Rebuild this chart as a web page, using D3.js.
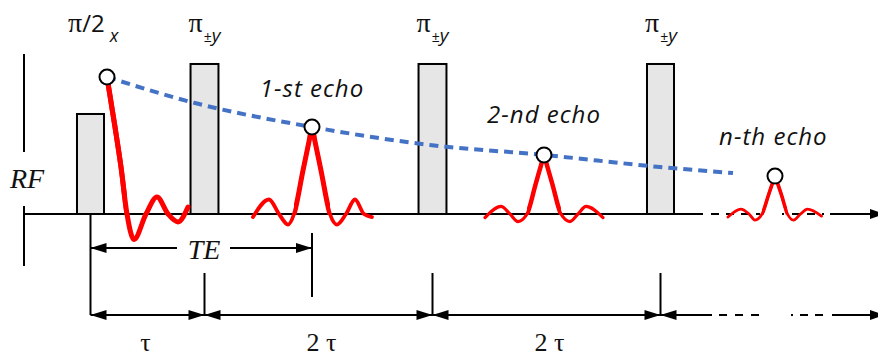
<!DOCTYPE html>
<html>
<head>
<meta charset="utf-8">
<script src="https://cdn.jsdelivr.net/npm/d3@7"></script>
<style>
  html, body { margin: 0; padding: 0; background: #fff; }
  svg { display: block; }
</style>
</head>
<body>
<svg id="chart" width="878" height="358"></svg>
<script>
// ---- data: time in units of tau, amplitude normalised to the FID maximum ----
const pulseTimes  = [0, 1, 3, 5];
const pulseWidths = [0.237, 0.245, 0.245, 0.237];
const pulseAmps   = [0.73, 1.095, 1.095, 1.095];
const pulseLabels = ["π/2", "π", "π", "π"];
const pulseSubs   = ["x", "±y", "±y", "±y"];

const echoLabels  = ["1-st echo", "2-nd echo", "n-th echo"];
const peakTimes   = [0.1447, 1.943, 3.9781, 6.0044];
const peakAmps    = [1.0, 0.635, 0.431, 0.277];

const decayTimes  = [0.1447, 0.917, 1.943, 2.978, 3.9781, 4.996, 5.636];
const decayAmps   = [1.0, 0.81, 0.635, 0.504, 0.431, 0.343, 0.299];

const fidSignal = [
  [0.1447, 1.0], [0.2149, 0.635], [0.2675, 0.343], [0.3202, 0], [0.3816, -0.186],
  [0.4868, 0], [0.5833, 0.124], [0.6798, 0], [0.7675, -0.058], [0.8553, 0.051]
];
const echo1Signal = [
  [1.4254, -0.022], [1.5658, 0.106], [1.6535, 0], [1.7325, -0.077], [1.7851, 0],
  [1.8640, 0.318], [1.9167, 0.529], [1.9430, 0.635], [1.9693, 0.529], [2.0219, 0.318],
  [2.1009, 0], [2.1623, -0.077], [2.2412, 0], [2.3202, 0.106], [2.3991, 0], [2.4693, -0.022]
];
const echo2Signal = [
  [3.4605, -0.026], [3.6009, 0.055], [3.6798, 0], [3.7500, -0.055], [3.8289, 0],
  [3.9035, 0.215], [3.9518, 0.355], [3.9781, 0.431], [4.0044, 0.355], [4.0526, 0.215],
  [4.1272, 0], [4.2061, -0.055], [4.2763, 0], [4.3465, 0.055], [4.4956, -0.026]
];
const echoNSignal = [
  [5.5921, -0.022], [5.7061, 0.036], [5.7763, 0], [5.8289, -0.044], [5.8904, 0],
  [5.9474, 0.139], [5.9825, 0.226], [6.0044, 0.277], [6.0263, 0.226], [6.0614, 0.139],
  [6.1140, 0], [6.1667, -0.044], [6.2281, 0], [6.2895, 0.036], [6.4123, -0.015]
];

const teSpan         = [0, 1.943];
const intervalTicks  = [0, 1, 3, 5];
const intervalLabels = ["τ", "2 τ", "2 τ"];

// ---- drawing ----
const svg = d3.select("#chart");
const x = d3.scaleLinear().domain([0, 1]).range([90.5, 204.5]);
const y = d3.scaleLinear().domain([0, 1]).range([214, 77]);
const Y0 = y(0);
const INK = "#000";

function seg(x1, y1, x2, y2, w = 2, dash = null) {
  const l = svg.append("line").attr("x1", x1).attr("y1", y1).attr("x2", x2).attr("y2", y2)
    .attr("stroke", INK).attr("stroke-width", w);
  if (dash) l.attr("stroke-dasharray", dash);
  return l;
}
function arrowHead(tip, yy, dir, len = 16, half = 5) {
  svg.append("path")
    .attr("d", `M${tip},${yy} L${tip - dir * len},${yy - half} L${tip - dir * len},${yy + half} Z`)
    .attr("fill", INK);
}

// pulses
svg.append("g").selectAll("rect").data(pulseTimes).join("rect")
  .attr("x", (d, i) => x(d - pulseWidths[i] / 2))
  .attr("width", (d, i) => x(pulseWidths[i]) - x(0))
  .attr("y", (d, i) => y(pulseAmps[i]))
  .attr("height", (d, i) => Y0 - y(pulseAmps[i]))
  .attr("fill", "#e6e6e6").attr("stroke", INK).attr("stroke-width", 2);

// RF baseline (time axis)
seg(24, Y0, 703, Y0);
seg(711, Y0, 760, Y0, 2, "8,7");
seg(782, Y0, 830, Y0, 2, "2,8,8,7,8,7");
seg(830, Y0, 872, Y0);
arrowHead(884, Y0, 1, 14, 5);

// RF vertical marker
seg(24, 54, 24, 152);
seg(24, 206, 24, 266);

// timing brackets
const yTE = 248, yRow = 315;
seg(x(teSpan[0]), Y0, x(teSpan[0]), yRow);
seg(x(teSpan[1]), 233, x(teSpan[1]), 297);
seg(x(teSpan[0]), yTE, 177, yTE);
seg(230, yTE, x(teSpan[1]), yTE);
arrowHead(x(teSpan[0]), yTE, -1);
arrowHead(x(teSpan[1]), yTE, 1);

intervalTicks.slice(1).forEach(t => seg(x(t), 273, x(t), yRow));
seg(x(0), yRow, 712, yRow);
seg(719, yRow, 760, yRow, 2, "8,8");
seg(791, yRow, 832, yRow, 2, "2,7,8,7,8,9");
seg(832, yRow, 872, yRow);
intervalTicks.forEach((t, i) => {
  arrowHead(x(t), yRow, -1);
  if (i > 0) arrowHead(x(t), yRow, 1);
});
arrowHead(884, yRow, 1, 14, 5);

// signals
const line = d3.line().x(d => x(d[0])).y(d => y(d[1])).curve(d3.curveMonotoneX);
const defs = svg.append("defs");
const signals = [
  { data: fidSignal,   base: 5,   main: 5 },
  { data: echo1Signal, base: 3.8, main: 5 },
  { data: echo2Signal, base: 3.2, main: 4.5 },
  { data: echoNSignal, base: 2.8, main: 3.6 }
];
signals.forEach((s, k) => {
  const d = s.data;
  let p = d3.maxIndex(d, v => v[1]);
  let l = p; while (l > 0 && d[l][1] > 0) l--;
  let r = p; while (r < d.length - 1 && d[r][1] > 0) r++;
  svg.append("path").attr("d", line(d)).attr("fill", "none")
    .attr("stroke", "#ff0000").attr("stroke-width", s.base)
    .attr("stroke-linecap", "round").attr("stroke-linejoin", "round");
  const id = "lobe" + k;
  defs.append("clipPath").attr("id", id).append("rect")
    .attr("x", x(d[l][0]) - (l === 0 ? 4 : 0)).attr("y", 0)
    .attr("width", x(d[r][0]) - x(d[l][0]) + (l === 0 ? 4 : 0)).attr("height", Y0 + 1);
  svg.append("path").attr("d", line(d)).attr("fill", "none")
    .attr("clip-path", `url(#${id})`)
    .attr("stroke", "#ff0000").attr("stroke-width", s.main)
    .attr("stroke-linecap", "round").attr("stroke-linejoin", "round");
});

// T2 decay envelope
const decay = decayTimes.map((t, i) => [t, decayAmps[i]]);
svg.append("path").attr("d", line(decay)).attr("fill", "none")
  .attr("stroke", "#4472c4").attr("stroke-width", 4).attr("stroke-dasharray", "9,6");

// echo maxima
svg.append("g").selectAll("circle").data(peakTimes).join("circle")
  .attr("cx", d => x(d)).attr("cy", (d, i) => y(peakAmps[i])).attr("r", 7.5)
  .attr("fill", "#fff").attr("stroke", INK).attr("stroke-width", 2);

// pulse labels
const labelFont = "'Open Sans', 'Noto Sans', sans-serif";
const serif = "'Liberation Serif', 'Times New Roman', serif";
pulseTimes.forEach((t, i) => {
  const left = i === 0 ? x(t) - 22.5 : x(t - pulseWidths[i] / 2) - 2;
  const txt = svg.append("text").attr("x", left).attr("y", 32)
    .attr("font-family", labelFont).attr("font-size", 24).attr("fill", "#111");
  const lab = pulseLabels[i];
  txt.append("tspan").attr("font-family", serif).attr("font-size", 28).text(lab.slice(0, 1));
  if (lab.length > 1) txt.append("tspan").text(lab.slice(1));
  if (pulseSubs[i] === "x") {
    txt.append("tspan").attr("dx", 5).attr("dy", 10).attr("font-size", 18)
      .attr("font-style", "italic").text("x");
  } else {
    txt.append("tspan").attr("dx", 1).attr("dy", 10).attr("font-size", 14).text("±");
    txt.append("tspan").attr("font-size", 19).attr("font-style", "italic").text("y");
  }
});

// echo labels
const echoLabelPos = [[1.943, 97], [3.9781, 123], [5.99, 145]];
echoLabels.forEach((s, i) => {
  svg.append("text").attr("x", x(echoLabelPos[i][0])).attr("y", echoLabelPos[i][1])
    .attr("text-anchor", "middle").attr("font-family", labelFont)
    .attr("font-style", "italic").attr("font-size", 24).attr("letter-spacing", 1)
    .attr("fill", "#111").text(s);
});

// RF, TE, tau labels
svg.append("text").attr("x", 10).attr("y", 188).attr("font-family", serif)
  .attr("font-style", "italic").attr("font-size", 28).attr("fill", "#111").text("RF");
svg.append("text").attr("x", 204).attr("y", 259).attr("text-anchor", "middle")
  .attr("font-family", serif).attr("font-style", "italic").attr("font-size", 28)
  .attr("fill", "#111").text("TE");
intervalLabels.forEach((s, i) => {
  const mid = (x(intervalTicks[i]) + x(intervalTicks[i + 1])) / 2;
  svg.append("text").attr("x", mid + (i === 0 ? -2 : 3)).attr("y", 351)
    .attr("text-anchor", "middle").attr("font-family", serif).attr("font-size", 26)
    .attr("fill", "#111").text(s);
});
</script>
</body>
</html>
